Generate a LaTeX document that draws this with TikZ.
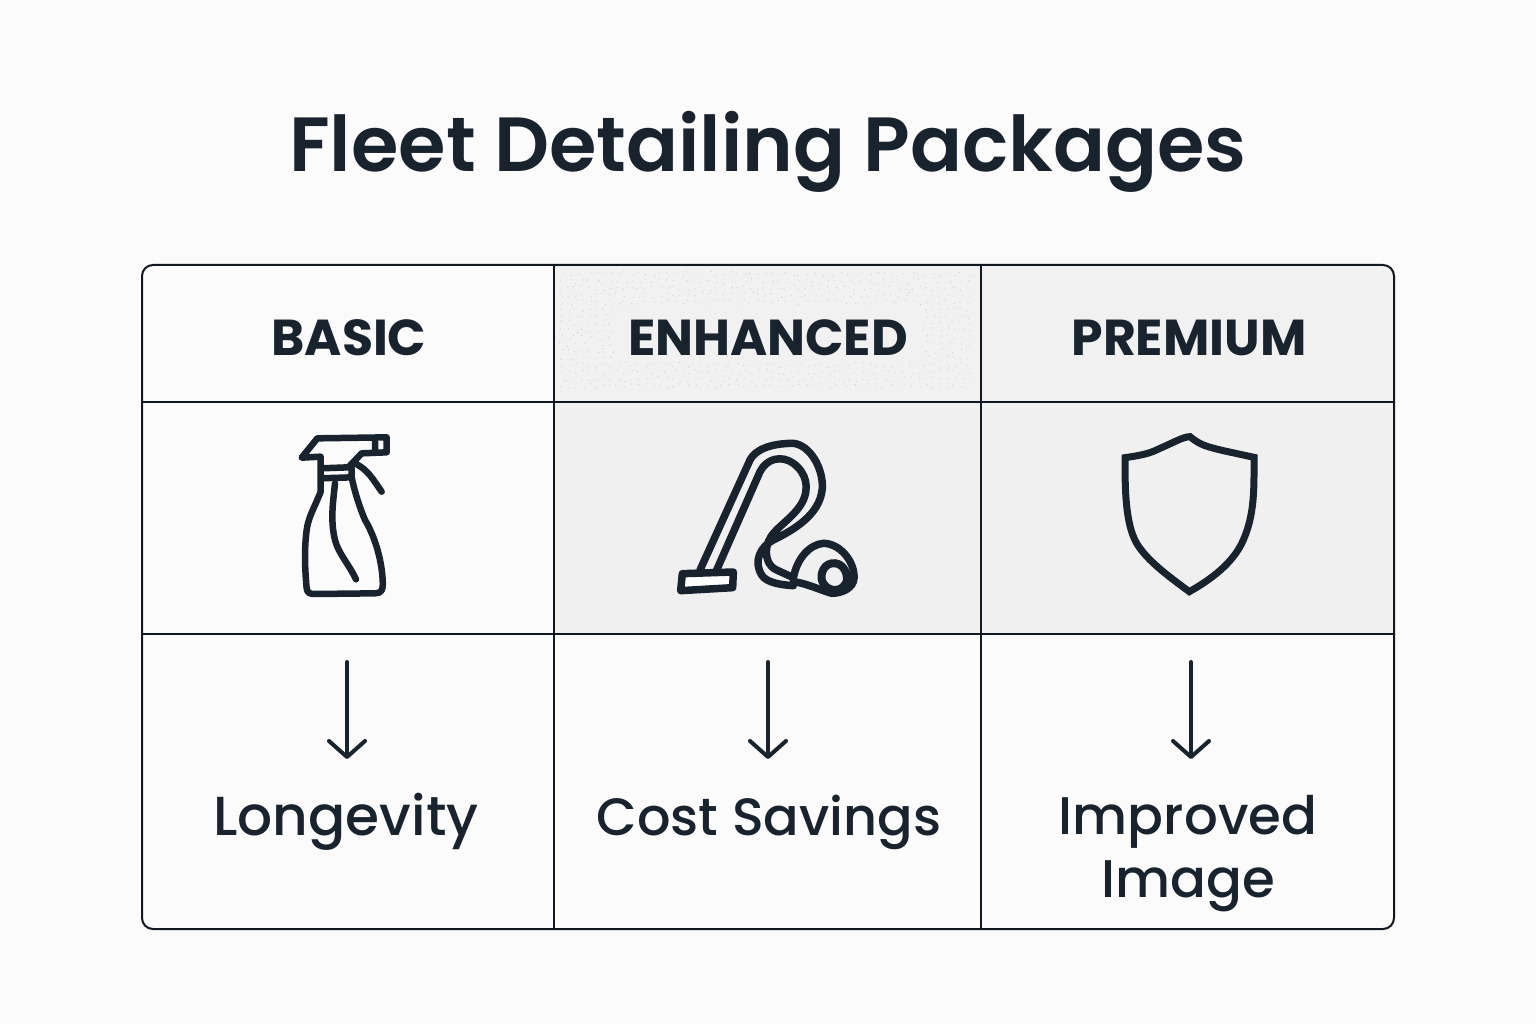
\documentclass[tikz,border=0pt]{standalone}
\usepackage{fontspec}
\setmainfont{Poppins}
\newfontfamily\semib{Poppins SemiBold}
\newfontfamily\medi{Poppins Medium}
\usetikzlibrary{arrows.meta}
\definecolor{ink}{HTML}{18232E}
\definecolor{bg}{HTML}{FBFBFB}
\definecolor{cellgray}{HTML}{F0F0F0}
\definecolor{cellgrayb}{HTML}{F1F1F1}
\definecolor{cellgrayc}{HTML}{F1F1F1}
\definecolor{speck}{HTML}{CDCDCD}
\tikzset{
  grid/.style={draw=ink!70!black,line width=2pt},
  icon/.style={draw=ink,line cap=round,line join=round},
  head/.style={text=ink,font=\fontsize{50.5}{52}\selectfont\bfseries,inner sep=0pt,anchor=base},
  ben/.style={text=ink,font=\fontsize{53}{63}\selectfont\medi,inner sep=0pt,anchor=center,align=center},
  arr/.style={draw=ink,line width=4pt,line cap=round,line join=round,-{Straight Barb[length=16pt,width=36pt,line width=4pt,round]}},
  zoomed/.style={x=0.33333pt,y=-0.33333pt}
}
\begin{document}
\begin{tikzpicture}[x=1pt,y=-1pt]
\fill[bg] (0,0) rectangle (1536,1024);
\useasboundingbox (0,0) rectangle (1536,1024);
\begin{scope}
\clip[rounded corners=11pt] (142,265) rectangle (1394,929);
\fill[cellgrayb] (554,265) rectangle (981,402);
\fill[cellgrayc] (981,265) rectangle (1394,402);
\fill[cellgray] (554,402) rectangle (1394,634);
\end{scope}
\pgfmathsetseed{7}
\foreach \gx in {562,569,...,972}{
  \foreach \gy in {274,281,...,392}{
    \pgfmathsetmacro{\px}{\gx+5*rnd-2.5}
    \pgfmathsetmacro{\py}{\gy+5*rnd-2.5}
    \pgfmathtruncatemacro{\skipit}{(\gx>612 && \gx<922 && \gy>308 && \gy<364) ? 1 : 0}
    \ifnum\skipit=0
      \fill[speck] (\px,\py) circle (0.6pt);
    \fi
  }
}
\draw[grid,rounded corners=11pt] (142,265) rectangle (1394,929);
\draw[grid] (554,265) -- (554,929) (981,265) -- (981,929) (142,402) -- (1394,402) (142,634) -- (1394,634);
\node[text=ink,font=\fontsize{76.8}{77}\selectfont\semib,inner sep=0pt] (title) at (768,152) {Fleet Detailing Packages};
\node[head] (h1) at (349,355) {BASIC};
\node[head] (h2) at (768,355) {ENHANCED};
\node[head] (h3) at (1189,355) {PREMIUM};
\node[ben,font=\fontsize{55}{63}\selectfont\medi] (b1) at (346,822) {Longevity};
\node[ben,font=\fontsize{52.5}{63}\selectfont\medi] (b2) at (769,822) {Cost Savings};
\node[ben] (b3) at (1188,854) {Improved\\Image};
\coordinate (s1) at (347,662); \coordinate (e1) at (347,759);
\coordinate (s2) at (768,662); \coordinate (e2) at (768,759);
\coordinate (s3) at (1191,662); \coordinate (e3) at (1191,759);
\draw[arr] (s1) -- (e1);
\draw[arr] (s2) -- (e2);
\draw[arr] (s3) -- (e3);
% spray bottle
\begin{scope}[shift={(280,420)},zoomed]
\draw[icon,line width=6.5pt]
 (122,145) -- (122,110) -- (65,113) -- (112,55) -- (320,52) -- (320,97) -- (245,100) -- (205,142) -- (122,145)
 (285,65) -- (285,97)
 (122,175) -- (215,172) (122,145) -- (122,175)  (215,145) -- (215,172)
 (122,175) -- (122,215) .. controls (105,260) and (85,290) .. (80,330) .. controls (72,390) and (75,450) .. (80,505) .. controls (82,520) and (90,522) .. (105,522) -- (285,520) .. controls (305,520) and (310,510) .. (308,480) .. controls (305,420) and (285,350) .. (255,300) .. controls (240,265) and (225,220) .. (215,172)
 (165,190) .. controls (160,240) and (150,300) .. (165,360) .. controls (175,400) and (205,430) .. (228,478)
 (225,130) .. controls (265,150) and (280,180) .. (305,215);
\end{scope}
% vacuum
\begin{scope}[shift={(660,425)},zoomed]
\fill[white] (65,440) rectangle (220,495);
\draw[icon,line width=7.5pt,fill=cellgray] (400,460) .. controls (410,400) and (450,358) .. (490,355) .. controls (540,355) and (585,410) .. (582,460) .. controls (580,490) and (545,505) .. (515,505) .. controls (480,495) and (440,475) .. (400,470);
\draw[icon,line width=7.5pt]
 (120,435) -- (270,105) .. controls (285,75) and (330,55) .. (400,55) .. controls (450,60) and (490,130) .. (487,190) .. controls (480,270) and (400,315) .. (340,345) .. controls (300,365) and (280,410) .. (305,450) .. controls (320,475) and (370,480) .. (400,482)
 (170,435) -- (300,140) .. controls (320,100) and (365,90) .. (400,115) .. controls (440,145) and (450,190) .. (425,235) .. controls (395,285) and (340,310) .. (325,350) .. controls (310,390) and (325,425) .. (350,435) -- (400,458);
\draw[icon,line width=7.5pt] (67,446) -- (220,441) -- (218,488) -- (62,497) -- cycle;
\draw[icon,line width=8pt,fill=cellgray] (515,415) .. controls (485,420) and (478,460) .. (490,475) .. controls (505,500) and (545,505) .. (560,470) .. controls (565,440) and (545,410) .. (515,415) -- cycle;
\end{scope}
% shield
\begin{scope}[shift={(1100,420)},zoomed]
\draw[draw=ink,line width=7pt,line join=miter]
 (75,113) .. controls (130,105) and (150,100) .. (180,85) .. controls (220,68) and (250,50) .. (270,50) .. controls (300,75) and (320,80) .. (370,92) -- (462,112) .. controls (462,200) and (465,280) .. (430,360) .. controls (400,430) and (330,480) .. (268,515) .. controls (200,465) and (140,420) .. (110,370) .. controls (75,310) and (75,200) .. (75,113) -- cycle;
\end{scope}
\end{tikzpicture}
\end{document}
